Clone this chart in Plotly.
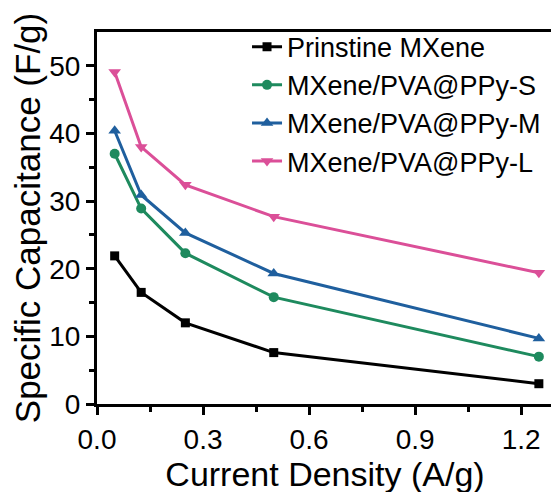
import plotly.graph_objects as go

current_density = [0.05, 0.125, 0.25, 0.5, 1.25]
pristine = [21.9, 16.5, 12.0, 7.6, 3.0]
ppy_s = [37.0, 28.9, 22.3, 15.8, 7.0]
ppy_m = [40.4, 30.9, 25.3, 19.3, 9.7]
ppy_l = [49.1, 38.0, 32.4, 27.7, 19.4]

series_names = ["Prinstine MXene", "MXene/PVA@PPy-S", "MXene/PVA@PPy-M", "MXene/PVA@PPy-L"]
series_values = [pristine, ppy_s, ppy_m, ppy_l]
colors = ["#000000", "#1E8A5E", "#1F5F9E", "#DB4F98"]
symbols = ["square", "circle", "triangle-up", "triangle-down"]
sizes = [9, 10, 11, 11]

fig = go.Figure()
for name, vals, c, s, sz in zip(series_names, series_values, colors, symbols, sizes):
    fig.add_trace(go.Scatter(
        x=current_density, y=vals, name=name, mode="lines+markers",
        line=dict(color=c, width=3),
        marker=dict(symbol=s, size=sz, color=c),
    ))

font = "Liberation Sans, Arial, sans-serif"
axis_common = dict(
    showline=True, linecolor="black", linewidth=3, mirror=True,
    ticks="outside", ticklen=8, tickwidth=3, tickcolor="black",
    showgrid=False, zeroline=False, automargin=False,
    tickfont=dict(family=font, size=28, color="black"),
)
fig.update_xaxes(
    range=[0, 1.29], tickvals=[0.0, 0.3, 0.6, 0.9, 1.2],
    ticktext=["0.0", "0.3", "0.6", "0.9", "1.2"],
    minor=dict(tickvals=[0.15, 0.45, 0.75, 1.05], ticks="outside", ticklen=5, tickwidth=3, tickcolor="black"),
    title=dict(text="Current Density (A/g)", font=dict(family=font, size=34, color="black"), standoff=0),
    **axis_common,
)
fig.update_yaxes(
    range=[0, 55], tickvals=[0, 10, 20, 30, 40, 50],
    minor=dict(tickvals=[5, 15, 25, 35, 45], ticks="outside", ticklen=5, tickwidth=3, tickcolor="black"),
    title=dict(text="Specific Capacitance (F/g)", font=dict(family=font, size=35, color="black"), standoff=0),
    **axis_common,
)
fig.update_layout(
    width=559, height=492,
    margin=dict(l=89, r=14, t=24, b=96),
    paper_bgcolor="white", plot_bgcolor="white",
    showlegend=True,
    legend=dict(
        x=0.329, y=1.025, xanchor="left", yanchor="top",
        bgcolor="rgba(0,0,0,0)", borderwidth=0,
        font=dict(family=font, size=27, color="black"),
        tracegroupgap=0,
    ),
)
fig.write_html("out.html")
